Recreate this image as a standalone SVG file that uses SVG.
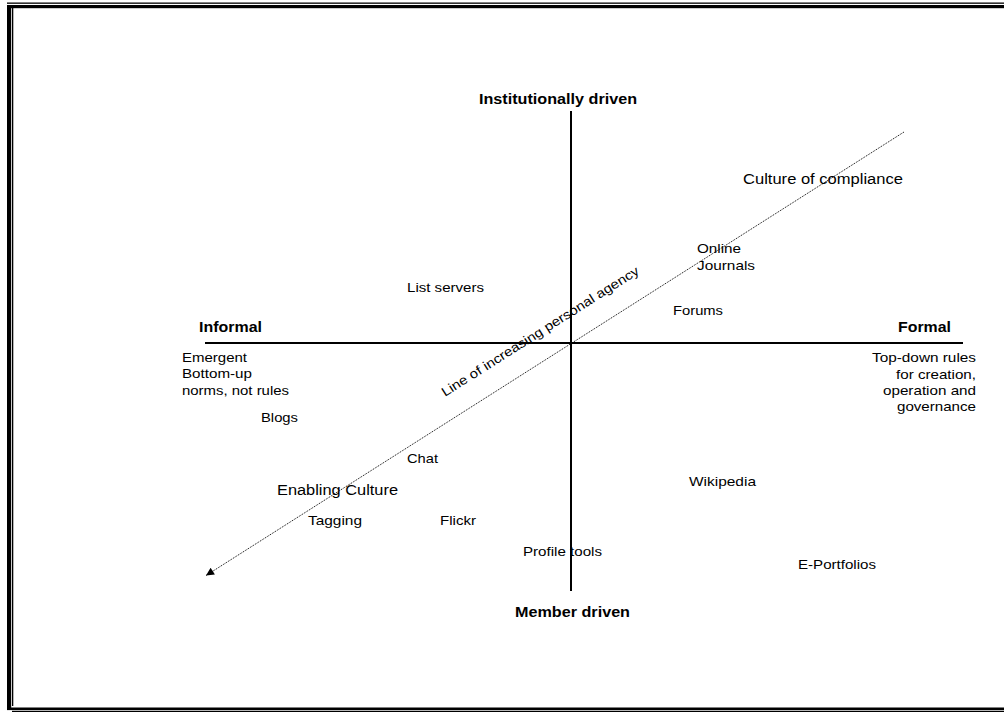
<svg xmlns="http://www.w3.org/2000/svg" width="1004" height="712" viewBox="0 0 1004 712">
<defs>
<style>
text{font-family:"Liberation Sans",Arial,sans-serif;fill:#000}
.r{font-size:13px}
.c{font-size:14px}
.b{font-size:14px;font-weight:bold}
.axis{stroke:#000;stroke-width:2;fill:none}
.agency{stroke:#000;stroke-width:1;stroke-dasharray:1 1;fill:none}
</style>
<marker id="ah" viewBox="0 0 10 10" refX="10" refY="5" markerWidth="10" markerHeight="8" markerUnits="userSpaceOnUse" orient="auto">
<path d="M0,0 L10,5 L0,10 z" fill="#000"/>
</marker>
</defs>
<rect width="1004" height="712" fill="#fff"/>
<g id="frame" fill="#000">
<rect x="7" y="2.5" width="997" height="1.3"/>
<rect x="7" y="5" width="997" height="3.2"/>
<rect x="7" y="5" width="4.2" height="705"/>
<rect x="12" y="8" width="1.3" height="698"/>
<rect x="7" y="707.5" width="997" height="2.6"/>
<rect x="12" y="710.8" width="992" height="1.2"/>
</g>
<g id="connectors">
<line class="axis" x1="205" y1="343" x2="963" y2="343"/>
<line class="axis" x1="571" y1="111" x2="571" y2="591"/>
<line class="agency" x1="904" y1="132" x2="206" y2="575.5" marker-end="url(#ah)"/>
</g>
<g id="axis-top"><text class="b" x="479" y="104" textLength="158" lengthAdjust="spacingAndGlyphs">Institutionally driven</text></g>
<g id="axis-bottom"><text class="b" x="515" y="617" textLength="115" lengthAdjust="spacingAndGlyphs">Member driven</text></g>
<g id="axis-left">
<text class="b" x="199" y="332" textLength="63" lengthAdjust="spacingAndGlyphs">Informal</text>
<text class="r" x="182" y="362" textLength="65" lengthAdjust="spacingAndGlyphs">Emergent</text>
<text class="r" x="182" y="378" textLength="70" lengthAdjust="spacingAndGlyphs">Bottom-up</text>
<text class="r" x="182" y="395" textLength="107" lengthAdjust="spacingAndGlyphs">norms, not rules</text>
</g>
<g id="axis-right">
<text class="b" x="898" y="332" textLength="53" lengthAdjust="spacingAndGlyphs">Formal</text>
<text class="r" x="872" y="362" textLength="104" lengthAdjust="spacingAndGlyphs">Top-down rules</text>
<text class="r" x="896" y="379" textLength="80" lengthAdjust="spacingAndGlyphs">for creation,</text>
<text class="r" x="883" y="395" textLength="93" lengthAdjust="spacingAndGlyphs">operation and</text>
<text class="r" x="897" y="411" textLength="79" lengthAdjust="spacingAndGlyphs">governance</text>
</g>
<g id="agency-label"><text class="r" transform="translate(445,397) rotate(-32.4)" textLength="231" lengthAdjust="spacingAndGlyphs">Line of increasing personal agency</text></g>
<g id="culture-compliance"><text class="c" x="743" y="184" textLength="160" lengthAdjust="spacingAndGlyphs">Culture of compliance</text></g>
<g id="enabling-culture"><text class="c" x="277" y="495" textLength="121" lengthAdjust="spacingAndGlyphs">Enabling Culture</text></g>
<g id="online-journals">
<text class="r" x="697" y="253" textLength="44" lengthAdjust="spacingAndGlyphs">Online</text>
<text class="r" x="697" y="270" textLength="58" lengthAdjust="spacingAndGlyphs">Journals</text>
</g>
<g id="forums"><text class="r" x="673" y="315" textLength="50" lengthAdjust="spacingAndGlyphs">Forums</text></g>
<g id="list-servers"><text class="r" x="407" y="292" textLength="77" lengthAdjust="spacingAndGlyphs">List servers</text></g>
<g id="blogs"><text class="r" x="261" y="422" textLength="37" lengthAdjust="spacingAndGlyphs">Blogs</text></g>
<g id="chat"><text class="r" x="407" y="463" textLength="31" lengthAdjust="spacingAndGlyphs">Chat</text></g>
<g id="tagging"><text class="r" x="308" y="525" textLength="54" lengthAdjust="spacingAndGlyphs">Tagging</text></g>
<g id="flickr"><text class="r" x="440" y="525" textLength="36" lengthAdjust="spacingAndGlyphs">Flickr</text></g>
<g id="wikipedia"><text class="r" x="689" y="486" textLength="67" lengthAdjust="spacingAndGlyphs">Wikipedia</text></g>
<g id="profile-tools"><text class="r" x="523" y="556" textLength="79" lengthAdjust="spacingAndGlyphs">Profile tools</text></g>
<g id="e-portfolios"><text class="r" x="798" y="569" textLength="78" lengthAdjust="spacingAndGlyphs">E-Portfolios</text></g>
</svg>
